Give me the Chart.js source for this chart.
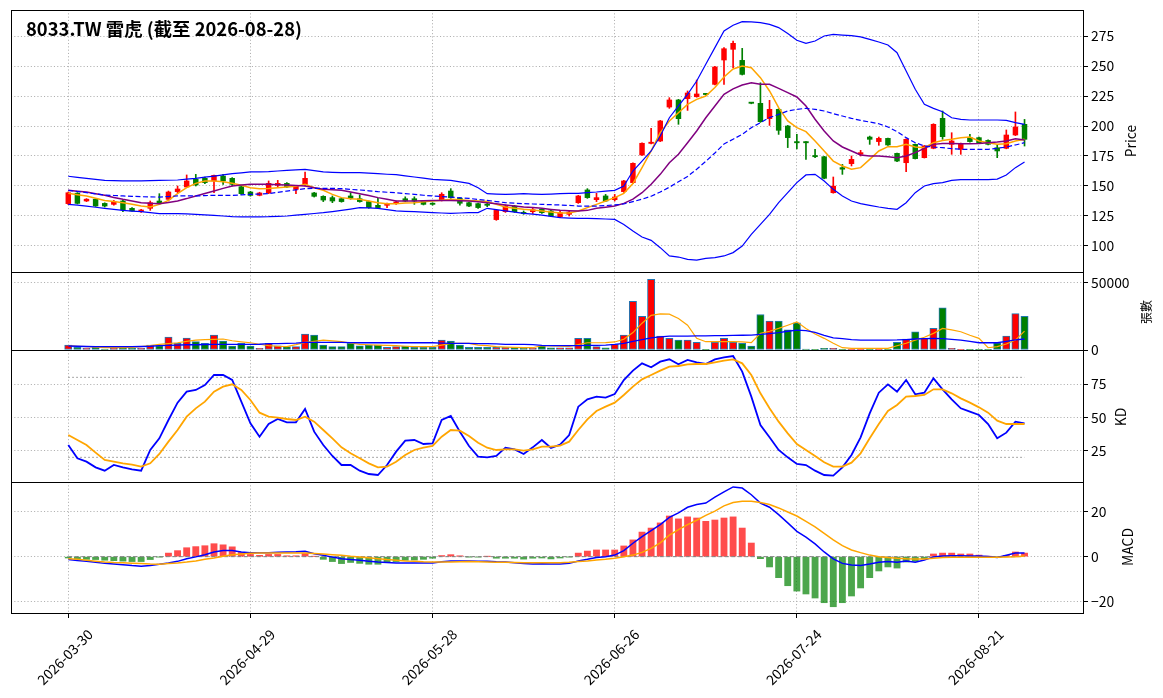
<!DOCTYPE html>
<html><head><meta charset="utf-8">
<script src="https://cdn.jsdelivr.net/npm/chart.js@4.4.1/dist/chart.umd.min.js"></script>
<style>
html,body{margin:0;padding:0;background:#fff;}
#wrap{position:relative;width:1163px;height:698px;overflow:hidden;font-family:'Noto Sans CJK TC','Noto Sans',sans-serif;background:#fff;}
canvas{position:absolute;left:0;}
.lbl{position:absolute;white-space:nowrap;color:#000;line-height:normal;}
.ylab{transform:translate(-50%,-50%) rotate(-90deg);}
</style></head><body>
<div id="wrap">
<canvas id="cPrice" width="1163" height="282" style="top:0px;width:1163px;height:282px"></canvas>
<canvas id="cVol" width="1163" height="98" style="top:262px;width:1163px;height:98px"></canvas>
<canvas id="cKD" width="1163" height="152" style="top:340px;width:1163px;height:152px"></canvas>
<canvas id="cMACD" width="1163" height="226" style="top:472px;width:1163px;height:226px"></canvas>
<div class="lbl" id="title" style="left:26px;top:15px;font-size:18.4px;font-weight:bold;">8033.TW 雷虎 (截至 2026-08-28)</div>
<div class="lbl ylab" style="left:1130px;top:141px;font-size:13.9px;">Price</div>
<div class="lbl ylab" style="left:1145px;top:312px;font-size:12px;">張數</div>
<div class="lbl ylab" style="left:1120px;top:417px;font-size:13.9px;">KD</div>
<div class="lbl ylab" style="left:1127px;top:547px;font-size:13.9px;">MACD</div>
</div>
<script>
// ---------------- DATA ----------------
const OPEN = [135.3,144,137.5,139,135.5,134.7,137.5,131.4,128.6,131.4,
137.5,138.9,145.3,149.2,155.6,156.4,154.2,158.3,156.4,149.4,
145,142.2,144.2,150.6,152.2,147.2,151.4,144.2,141.4,140.3,
139.4,141.7,139.4,137,133.9,133.9,135.3,139.4,139.4,137.5,
135.5,138.3,145.8,139.7,136.1,135.3,134.7,122,128.6,133.3,
128,128.6,130.6,129.2,124.2,126.4,136.1,146.7,138.6,141.7,
138.6,145.3,152.8,175.8,185.5,187.5,215.8,221.7,222.8,224.4,
226.4,234.7,255,263.9,254.7,219.2,218.9,206.1,213.9,200,
186.4,186.2,174.7,174.4,144.4,165.3,168.6,176.4,190.8,187,
189.7,177.2,169.4,184.7,173.6,181.4,206.4,184.7,180.6,190.3,
190.3,188,181.9,181.4,192.5,201.4];
const HIGH = [145,144.5,139.5,139.5,136,138,138,132,130.5,137.5,
143.6,145.8,150,159.2,159.7,157.5,159.2,159.7,157,150,
145.5,144.8,154.2,154.7,152.8,150.5,161.7,144.7,141.9,141.7,
139.8,144.4,142.5,137.5,139.7,135.8,137.5,141,141,138,
136,144.4,147.8,140.3,136.7,135.8,137.5,130.3,134.2,133.9,
129.2,132,131.4,129.7,129.7,129.7,142.2,147.8,143.9,143,
143,154.7,169.4,186,198,204.7,223.6,222.2,229.2,238.3,
226.8,249.7,265.3,270.8,264.7,219.4,236,221.4,214.4,200.5,
193,187,180.6,174.7,157.5,168,175,179.7,191.6,190.8,
190,177.5,189.4,185,183.8,201.9,212.5,194.4,185.8,193,
190.8,188.5,184,196.7,211.7,205.5];
const LOW = [134.5,135,137,133,132.5,134,128.6,129,128,129.7,
134.7,137.5,144.4,148.6,150,152,144.4,151.4,150,143,
141.5,141.8,143.6,149.2,148.6,143.6,150,140.8,137,136.1,
136.5,139,136.5,131.4,131.4,132,134.7,137,134.7,134.2,
134,137.5,139.7,134,132.8,131.4,132.8,121.4,128,128,
126.4,127,127.2,124.4,123.6,125,135.5,139.7,137,137,
137.5,144.7,151.9,175.5,185,187,214.7,201.4,213,224,
225.8,234.2,234.7,248.6,242.5,218.5,203,200.5,193,182,
181,172.2,173.6,156,144,159.7,166.7,175,184.7,183.9,
183.9,170.3,162,172.5,173.3,181,188.9,176.4,176.4,186.5,
185.5,184.2,173.6,181,192,183.3];
const CLOSE = [144.4,135.5,139,133.3,133.3,136.7,130,129.2,130,136.1,
135.8,145,147.5,154.2,150.8,152.8,158.9,154.2,151.4,143.6,
142.2,144.2,152.2,152.2,149.2,150,156.4,141.4,138.3,137.5,
137,139.7,137,132,132,135.3,136.7,137.5,137.5,134.7,
134.7,143.1,140.3,135.6,133.3,132,133.9,129.7,133.3,128.6,
127,130.3,127.8,125,127.8,128.3,141.7,140.3,140.3,137.5,
140.8,154.2,168.9,185.6,186.5,204.2,221.7,206.1,227.5,226.7,
226.2,249.2,264.4,268.9,243,218.9,203.6,213.9,196.4,190.3,
186,186,174.4,156.4,149.9,164,172.2,177.8,188.9,189.7,
184.2,170.8,188.9,172.8,183.3,201.4,191.1,187.5,185.3,187,
186.1,184.7,179.2,192.5,199.2,188.9];
const MA5 = [143.9,142.8,141.7,139.8,138,137,136.1,134.7,133.3,132.5,
134.7,138,143.6,148.6,152.2,154.2,154.2,153.6,152.2,150.6,
148.6,147.8,148,148.6,149.2,149.7,151.4,148.6,146.4,143,
140.3,139.4,138.9,137.5,136.1,135.3,135.3,135.8,136.1,136.8,
137.5,138.2,138.9,138.5,138,137.5,137,134.7,132.5,131.5,
130.6,129.9,129.2,128.3,127.5,127.5,129.2,132,134.7,137.5,
140.3,143.9,152,165.3,179.2,194.4,204.2,211.1,218,222.2,
225,232,240.8,247.5,250,248.6,240.3,229.2,215.3,204.2,
198.6,195.3,187.5,179.2,170.8,166.7,163.9,165.3,172.2,179.2,
182.8,182.8,184.7,182.5,181.9,186.1,188,188.9,190.3,190.8,
187.5,186.1,184.7,185.3,187.5,188.9];
const MA10 = [146.4,145.7,145,143.6,142.2,140.5,138.9,137.5,136.1,135.6,
135.3,136.2,137.5,139.5,141.7,143.8,145.8,148,150,150.8,
151.4,151.4,151.4,151.1,150.8,150.4,150,148.6,147.2,146.8,
146.4,145,143.6,142,140.3,138.9,137.5,137.5,137.5,137.8,
138,138,138,137.8,137.5,136.8,136.1,135.2,134.2,133.3,
132.5,132,131.4,130.5,129.7,129.4,129.2,129.7,131.4,132.3,
133.3,135.5,139,144.4,151.4,159.7,169.4,176.4,186.1,195.8,
206.9,216.7,226.4,231,234.2,236.1,234.7,234.7,231.4,227.8,
224.2,216.7,205.6,195.8,187.5,182.5,179.2,175.8,175,175,
174.4,173.6,175,177.8,181.4,184.7,185.5,185.5,185.3,185.3,
185.5,186.1,186.7,187.5,189.4,188.3];
const MA20 = [146.4,145.4,144.4,143.4,142.5,142.1,141.7,141.4,141.1,140.9,
140.8,141.2,141.7,141.7,141.7,142,142.2,142.2,142.2,142.6,
143,143.3,143.6,144.7,145.8,146.8,147.8,148,148.1,148,
147.8,147.2,146.7,146,145.3,144.8,144.4,143.7,143,142.3,
141.7,141.2,140.8,140.2,139.7,138.8,138,137,136.1,135.7,
135.3,135,134.7,134.4,134.2,133.8,133.3,133.3,133.3,133.7,
134.2,135,137,139,141.5,145,149,153.5,158,164,
170.5,177.5,185,189,193,198.6,202.8,207,209.7,212.5,
213.9,214.7,213.9,212.5,210.3,208.3,206.4,204.7,203.3,201.9,
199.2,195.3,190.3,186.1,183.3,182.5,181.9,181.1,180.6,180.6,
180.6,180.6,181.4,182.5,184.2,186.1];
const BB_UP = [158.1,157.2,156.4,155.5,154.7,154.4,154.2,154.2,154.2,154.4,
154.7,154.8,155,155.7,156.4,157.4,158.3,159.3,160.3,161,
161.7,161.8,162,162.5,163.1,163.5,163.9,162.8,161.7,161.4,
161.1,161.1,161.1,160.7,160.3,159.8,159.4,158.5,157.5,156.5,
155.6,155.1,154.7,153.5,152.2,148.6,143.6,143.3,143,143.3,
143.6,143.3,143,143.3,143.6,143.8,143.9,144.5,145,145.7,
146.4,150,162.5,170.8,179.2,191.7,206.9,216.7,226.4,237.5,
251.4,265.3,279.2,284,287,286.7,286.1,284.7,282,277,
271.4,268.9,270.8,275,276.4,275.8,275.3,274.2,272.2,270,
267.5,261.1,245.8,230.6,218,214.7,211.9,206.9,205.6,205,
205,205,205,204.7,202.8,201.4];
const BB_LO = [134.7,134,133.3,132.3,131.4,130.5,129.7,129.1,128.6,127.8,
127,127,127,126.7,126.4,126,125.6,125,124.4,124.3,
124.2,124.3,124.4,124.7,125,125.7,126.4,127.1,127.8,128.7,
129.7,130.8,132,131.8,131.4,130.3,129.2,128.9,128.6,128.2,
127.8,127.5,127.2,127.5,127.8,127.8,131.4,130.3,129.2,128.2,
127.2,126.5,125.8,124.7,123.6,123.3,123.1,123,122.8,122.5,
122.2,118,112.5,107.5,104.7,98.6,91.7,90.8,88.9,88.3,
89.7,90.3,91.7,94.5,100,109.7,118,126.4,136.1,144.4,
152.8,159.2,159.7,154.2,147.2,141.7,137.5,135.3,133.9,132.5,
131.4,130.6,136.1,144.4,150,152,152.8,154.7,155.3,155.3,
155.3,155.3,155.8,159.2,165.3,170];
const VOLUME = [3700,2000,1240,2000,740,1240,1730,1240,1240,3700,
3200,9650,4950,8900,6200,4950,11100,6700,2970,4950,
2970,1240,4950,3200,2475,2475,11900,11100,3700,2475,
2475,4950,3200,3700,3700,2000,2475,2970,2000,2000,
2000,7400,6700,3700,2000,2000,2000,2000,2000,2000,
1240,1240,3200,1700,1700,1700,8700,8700,2500,1700,
4200,11100,36400,25200,52700,10400,8700,7400,7400,5700,
500,5700,8700,5700,4950,3000,26500,21500,21500,15000,
20300,750,500,1250,1250,500,500,500,500,500,
500,5700,8200,13600,8700,16100,31400,1250,500,500,
500,500,5400,10400,27200,25200];
const VOL_MA5 = [3200,2800,2500,2100,1700,1700,1700,1900,2500,3300,
4200,4800,5400,6400,7400,7700,7900,8200,6900,6100,
5400,4300,3200,2800,2500,4000,5700,6500,7400,6800,
6200,5200,4200,3900,3700,3400,3200,2800,2500,2500,
2500,3700,4950,4950,4950,3700,3200,2500,2200,2000,
1800,1700,3200,3000,2800,2600,4000,5400,5400,5500,
6000,8000,13000,20000,25900,27000,26700,23500,18500,8700,
6200,6200,6200,6200,6000,5500,12400,14000,16100,18500,
21000,16100,12000,8700,5000,1700,1250,1250,1250,1250,
1250,3200,5000,7400,9500,12400,16100,15000,13600,11000,
8700,1700,2500,4500,7400,14100];
const VOL_MA20 = [3000,2800,2600,2500,2500,2500,2500,2500,2600,2800,
3200,3400,3700,3900,3900,4100,4200,4200,4200,4200,
4200,4300,4700,4800,5000,5200,5700,5700,5700,5700,
5700,5500,5400,5400,5400,5400,5400,5400,5400,5400,
5400,5200,4950,4950,4950,4700,4700,4500,4200,4200,
4200,4000,3500,3200,3200,3200,3300,3500,3500,3700,
4200,4950,6500,7800,9100,9800,10400,10400,10400,10600,
10600,10700,10800,10900,11000,11100,11600,12200,13000,14000,
14850,14500,13100,11000,9100,8500,7800,7400,7400,7400,
7400,7500,7800,8200,8500,8700,8500,8000,7400,6500,
5400,5400,5400,6500,7500,8200];
const K_VAL = [29.25,19.25,16.75,12.5,10,14.25,12.5,11,10,25.5,
34.25,48,61,69.25,70.5,74.25,81.75,81.75,78,61.75,
45.5,35.5,45,48.75,46.25,46.25,56.25,39.25,29.25,21,
14.25,14.25,10,7.5,6.75,14.25,24.25,32.5,33,30,
30.5,48,51,39.25,28.5,20.5,20,21,27.25,26,
22.5,27.5,33,27,29.5,36.75,58,63.5,65.5,64.75,
67.5,78,85,90.5,87.5,91.75,93.5,89.75,93,91.25,
90,93.5,95,96,84.25,65.5,44.25,35,25.5,20,
15,14.25,10,6.75,6.25,12.5,21.75,35,53,68.5,
74.75,69.25,78,67.25,68.5,79.25,71,63.5,56.75,54.25,
51.75,45,34.25,38.5,46.75,45.5];
const D_VAL = [36.75,33,29.25,23.5,18,16.75,15.5,14.5,13,15.5,
22.5,31.75,40.5,50.5,56.75,61.75,69.25,73,74.75,70.5,
63,53.5,50.5,49.75,48.75,48,50.5,46.75,40.5,34.25,
27.5,23,19.25,15.5,12.5,13,16.75,21.75,25.5,27.25,
28.5,35.5,40.5,40,36,31,27.25,25.5,26,26,
25,26,28,28,28.75,31.75,40.5,48.5,54.75,58,
61,66.75,73,78.5,81.75,85,88,88.5,89.75,90,
90,91.25,92.5,93.5,90.5,81.75,68,56.75,46.75,38,
30,25.5,21,16.25,13,13,16,23,34.25,45,
54.75,59.25,65.5,66,66.75,71,71,68,64.25,61,
57.5,53.5,47.5,45,45,45];
const DIF = [-1.3,-1.7,-2.1,-2.5,-3,-3.3,-3.6,-4,-4.3,-3.9,
-3.4,-2.8,-2.1,-0.9,-0.1,0.9,2.1,2.8,2.8,2.1,
1.8,1.8,1.8,2,2.1,2.2,2.4,1.3,0.6,-0.2,
-0.9,-1.3,-1.6,-2,-2.4,-2.6,-2.8,-2.8,-2.8,-2.8,
-2.8,-2.3,-1.9,-1.9,-1.9,-2,-2.1,-2.3,-2.4,-2.7,
-3.1,-3.3,-3.2,-3.3,-3.3,-3,-1.9,-1.2,-0.4,0,
0.7,2.7,6,9,11.6,14.3,17.6,19.6,22.1,23.3,
24,26.6,29,31.2,30.7,27.7,24,22.1,18.8,15.1,
11.3,8.7,5.7,2.1,-1,-3,-3.7,-4,-3.3,-2.5,
-2.2,-2.5,-1.9,-2.5,-1.5,-0.1,0.3,0.4,0.4,0.3,
0.3,0.1,-0.4,0.6,1.6,1.6];
const DEA = [-0.9,-1.2,-1.6,-2,-2.4,-2.6,-2.7,-2.9,-3.1,-3.3,
-3.4,-3.1,-2.8,-2.4,-1.9,-1.2,-0.6,0.2,0.9,1.2,
1.5,1.6,1.6,1.6,1.6,1.6,1.6,1.4,1.2,0.9,
0.6,0.2,-0.1,-0.5,-0.9,-1.3,-1.6,-1.9,-2.1,-2.3,
-2.4,-2.4,-2.4,-2.3,-2.2,-2.3,-2.4,-2.45,-2.5,-2.6,
-2.7,-2.75,-2.75,-2.7,-2.7,-2.5,-2.2,-1.9,-1.5,-1.2,
-0.7,0,0.7,1.9,3.7,6.2,9.6,12.1,14.3,16.3,
18.5,20.4,22.7,24.2,24.8,24.8,24.2,23.3,21.8,20,
18.2,15.8,13.3,10.4,7.5,4.9,3,1.8,0.7,0,
-0.4,-0.7,-0.9,-1,-1,-0.7,-0.4,-0.3,-0.3,-0.3,
-0.3,-0.3,-0.3,-0.1,0,0.3];
const HIST = [-0.6,-1,-1.2,-1.3,-1.6,-1.8,-2,-2.2,-2.2,-1.3,
-0.1,1.6,2.7,4,4.5,4.9,5.8,5.3,4.4,1.9,
1,0.6,1,1,0.4,0.4,1.4,0.1,-1.2,-2.2,
-3.1,-2.6,-3,-3.4,-3.4,-2.5,-2.2,-1.6,-1.5,-1.2,
-0.7,0.5,0.9,0.4,-0.1,-0.2,0.1,-0.7,-0.7,-0.7,
-1.1,-0.7,-0.6,-1,-0.6,-0.1,1.6,2.5,3,3,
3,4.8,7.5,11,12.8,15.1,18.2,16.9,17.8,17.3,
15.8,16.4,17.3,17.8,12.8,6.1,-0.9,-4.6,-9.4,-13,
-15.4,-16.7,-18.5,-20.6,-22.4,-20.6,-17.6,-14,-9.4,-6.4,
-4.6,-5.1,-2.4,-2.1,-0.9,1.2,1.6,1.6,1.2,1.2,
0.7,0.2,-0.1,0.6,2.1,1.6];

const PRICE_TICKS = [100,125,150,175,200,225,250,275];
const VOL_TICKS = [0,50000];
const KD_TICKS = [25,50,75];
const MACD_TICKS = [-20,0,20];
const X_TICKS = [0,20,40,60,80,100];
const KD_LEVELS = [80,20];

// trading-day categories (weekdays minus exchange holidays)
const HOLIDAYS = ['2026-04-03','2026-04-06','2026-05-01','2026-06-19'];
const DATES = (function(){
  const out=[]; const d=new Date(Date.UTC(2026,2,30));
  while(out.length<CLOSE.length){
    const dow=d.getUTCDay(); const s=d.toISOString().slice(0,10);
    if(dow!==0&&dow!==6&&HOLIDAYS.indexOf(s)<0) out.push(s);
    d.setUTCDate(d.getUTCDate()+1);
  }
  return out;
})();
const IDX = DATES.map((_, i) => i);
const LAST = IDX[IDX.length-1];

// ---------------- STYLE ----------------
const FONT = "'Noto Sans CJK TC','Noto Sans',sans-serif";
const XMIN = -6.29, XMAX = 111.42;
const UP = '#ff0000', DOWN = '#008000';
const GRID = '#b0b0b0';
const DOT = [1.1, 2.2];

const candleColor = IDX.map(i => CLOSE[i] >= OPEN[i] ? UP : DOWN);
const histColor = HIST.map(v => v >= 0 ? 'rgba(255,0,0,0.7)' : 'rgba(0,128,0,0.7)');

function xScale(show){
  return {
    type:'linear', min:XMIN, max:XMAX, offset:false,
    grid:{color:GRID, lineWidth:1, drawTicks:show, tickLength:5, tickColor:'#000', tickWidth:1, offset:false},
    border:{display:false, dash:DOT},
    ticks:{display:show, autoSkip:false, minRotation:45, maxRotation:45, padding:8, labelOffset:22,
      color:'#000', font:{family:FONT, size:13.9}, callback:(v)=>DATES[v]},
    afterBuildTicks:(s)=>{ s.ticks = X_TICKS.map(v=>({value:v})); },
    afterFit:(s)=>{ s.height = show ? 85 : 0; s.paddingLeft = 0; s.paddingRight = 0; }
  };
}
function yScale(min, max, ticks, fmt){
  return {
    type:'linear', position:'right', min:min, max:max,
    grid:{color:GRID, lineWidth:1, drawTicks:true, tickLength:5, tickColor:'#000', tickWidth:1},
    border:{display:false, dash:DOT},
    ticks:{color:'#000', padding:3, autoSkip:false, font:{family:FONT, size:13.9}, callback: fmt || ((v)=>String(v))},
    afterBuildTicks:(s)=>{ s.ticks = ticks.map(v=>({value:v})); },
    afterFit:(s)=>{ s.width = 80; s.paddingTop = 0; s.paddingBottom = 0; }
  };
}
const framePlugin = {
  id:'frame',
  afterDraw(chart){
    const a = chart.chartArea, ctx = chart.ctx;
    ctx.save(); ctx.strokeStyle = '#000'; ctx.lineWidth = 1; ctx.setLineDash([]);
    const l = Math.round(a.left), t = Math.round(a.top);
    const r = Math.round(a.right), b = Math.round(a.bottom);
    ctx.strokeRect(l+0.5, t+0.5, r-l, b-t);
    ctx.restore();
  }
};
function opts(pad, show, yopts){
  return {
    responsive:false, animation:false, events:[],
    layout:{padding:pad},
    plugins:{legend:{display:false}, tooltip:{enabled:false}, title:{display:false}},
    scales:{x:xScale(show), y:yopts}
  };
}
function line(data, color, width, extra){
  return Object.assign({type:'line', data:data, borderColor:color, backgroundColor:color, borderWidth:width,
    pointRadius:0, tension:0, fill:false, order:1}, extra||{});
}

// ---------------- PRICE ----------------
new Chart(document.getElementById('cPrice'), {
  type:'line',
  data:{ labels:IDX, datasets:[
    {type:'bar', data:IDX.map(i=>[LOW[i],HIGH[i]]), backgroundColor:candleColor, barThickness:1, grouped:false, order:10},
    {type:'bar', data:IDX.map(i=>[Math.min(OPEN[i],CLOSE[i]),Math.max(OPEN[i],CLOSE[i])]), backgroundColor:candleColor,
      barThickness:4.8, grouped:false, minBarLength:1.2, order:9},
    line(BB_UP, '#0000ff', 1.2),
    line(BB_LO, '#0000ff', 1.2),
    line(MA20, '#0000ff', 1.2, {borderDash:[5,2.5]}),
    line(MA10, '#800080', 1.5),
    line(MA5, '#ffa500', 1.5)
  ]},
  options: opts({left:11, right:0, top:10, bottom:10}, false, yScale(78.33, 296.67, PRICE_TICKS)),
  plugins:[framePlugin]
});

// ---------------- VOLUME ----------------
new Chart(document.getElementById('cVol'), {
  type:'line',
  data:{ labels:IDX, datasets:[
    {type:'bar', data:VOLUME, backgroundColor:candleColor, borderColor:'#1f77b4', borderWidth:1, borderSkipped:false,
      barThickness:7.3, grouped:false, order:10},
    line(VOL_MA20, '#0000ff', 1.3),
    line(VOL_MA5, '#ffa500', 1.2)
  ]},
  options: opts({left:11, right:0, top:10, bottom:10}, false, yScale(0, 58200, VOL_TICKS)),
  plugins:[framePlugin]
});

// ---------------- KD ----------------
new Chart(document.getElementById('cKD'), {
  type:'line',
  data:{ labels:IDX, datasets:[
    line([{x:IDX[0],y:KD_LEVELS[0]},{x:LAST,y:KD_LEVELS[0]}], '#8c8c8c', 1, {borderDash:[1.5,2.5], order:5}),
    line([{x:IDX[0],y:KD_LEVELS[1]},{x:LAST,y:KD_LEVELS[1]}], '#8c8c8c', 1, {borderDash:[1.5,2.5], order:5}),
    line(K_VAL, '#0000ff', 1.8, {order:2}),
    line(D_VAL, '#ffa500', 1.8, {order:1})
  ]},
  options: opts({left:11, right:0, top:10, bottom:10}, false, yScale(1.5, 100.5, KD_TICKS)),
  plugins:[framePlugin]
});

// ---------------- MACD ----------------
new Chart(document.getElementById('cMACD'), {
  type:'line',
  data:{ labels:IDX, datasets:[
    line([{x:IDX[0],y:0},{x:LAST,y:0}], '#808080', 1, {borderDash:[4,2.5], order:8}),
    {type:'bar', data:HIST, backgroundColor:histColor, barThickness:6.2, grouped:false, order:10},
    line(DIF, '#0000ff', 1.5, {order:2}),
    line(DEA, '#ffa500', 1.5, {order:1})
  ]},
  options: opts({left:11, right:0, top:10, bottom:0}, true,
    yScale(-25.2, 33.4, MACD_TICKS, (v)=> v<0 ? '\u2212'+Math.abs(v) : String(v))),
  plugins:[framePlugin]
});
</script>
</body></html>
